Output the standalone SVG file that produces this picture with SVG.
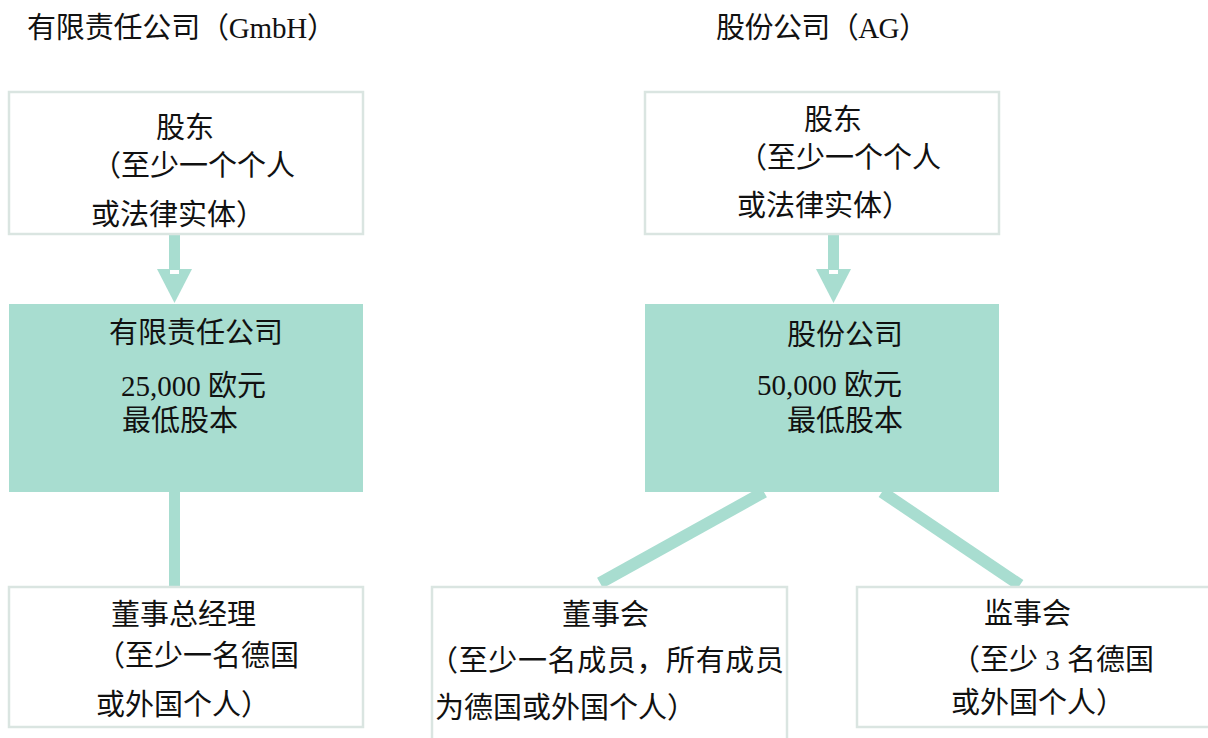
<svg xmlns="http://www.w3.org/2000/svg" width="1208" height="738" viewBox="0 0 1208 738">
<style>
.box{fill:#ffffff;stroke:#dae5e1;stroke-width:2.5}
.teal{fill:#a8ddd0}
.conn{stroke:#a8ddd0;fill:none}
.t{font-family:"Liberation Serif","Noto Sans CJK SC",serif;font-size:29px;fill:#111111}
</style>
<rect width="1208" height="738" fill="#ffffff"/>
<text class="t" x="27" y="38" textLength="309" lengthAdjust="spacing">有限责任公司（GmbH）</text>
<text class="t" x="716" y="38" textLength="212" lengthAdjust="spacing">股份公司（AG）</text>

<g id="connectors">
  <line class="conn" x1="174.5" y1="234" x2="174.5" y2="270" stroke-width="11"/>
  <polygon points="157,269 192,269 174.5,303" fill="#a8ddd0"/>
  <rect x="170" y="270" width="9" height="4" fill="#ffffff"/>
  <line class="conn" x1="833.5" y1="234" x2="833.5" y2="270" stroke-width="11"/>
  <polygon points="816,269 851,269 833.5,303" fill="#a8ddd0"/>
  <rect x="829" y="270" width="9" height="4" fill="#ffffff"/>
  <line class="conn" x1="174.5" y1="490" x2="174.5" y2="588" stroke-width="11"/>
  <line class="conn" x1="764" y1="492" x2="600" y2="583" stroke-width="12"/>
  <line class="conn" x1="882" y1="492" x2="1020" y2="585" stroke-width="12"/>
</g>

<g id="gmbh-shareholders">
  <rect class="box" x="9" y="92" width="354" height="142"/>
  <text class="t" x="156" y="138">股东</text>
  <text class="t" x="92" y="176">（至少一个个人</text>
  <text class="t" x="91" y="225">或法律实体）</text>
</g>
<g id="gmbh">
  <rect class="teal" x="9" y="304" width="354" height="188"/>
  <text class="t" x="109" y="343">有限责任公司</text>
  <text class="t" x="121" y="396">25,000 欧元</text>
  <text class="t" x="122" y="431">最低股本</text>
</g>
<g id="gmbh-director">
  <rect class="box" x="9" y="587" width="354" height="140"/>
  <text class="t" x="111" y="625">董事总经理</text>
  <text class="t" x="96" y="666">（至少一名德国</text>
  <text class="t" x="96" y="715">或外国个人）</text>
</g>

<g id="ag-shareholders">
  <rect class="box" x="645" y="92" width="354" height="142"/>
  <text class="t" x="804" y="130">股东</text>
  <text class="t" x="738" y="168">（至少一个个人</text>
  <text class="t" x="737" y="216">或法律实体）</text>
</g>
<g id="ag">
  <rect class="teal" x="645" y="304" width="354" height="188"/>
  <text class="t" x="787" y="345">股份公司</text>
  <text class="t" x="757" y="395">50,000 欧元</text>
  <text class="t" x="787" y="431">最低股本</text>
</g>
<g id="ag-board">
  <rect class="box" x="432" y="587" width="355" height="160"/>
  <text class="t" x="562" y="625">董事会</text>
  <text class="t" x="429" y="671" textLength="355" lengthAdjust="spacing">（至少一名成员，所有成员</text>
  <text class="t" x="435" y="718">为德国或外国个人）</text>
</g>
<g id="ag-supervisory">
  <rect class="box" x="857" y="587" width="360" height="140"/>
  <text class="t" x="984" y="624">监事会</text>
  <text class="t" x="951" y="670">（至少 3 名德国</text>
  <text class="t" x="951" y="713">或外国个人）</text>
</g>
</svg>
